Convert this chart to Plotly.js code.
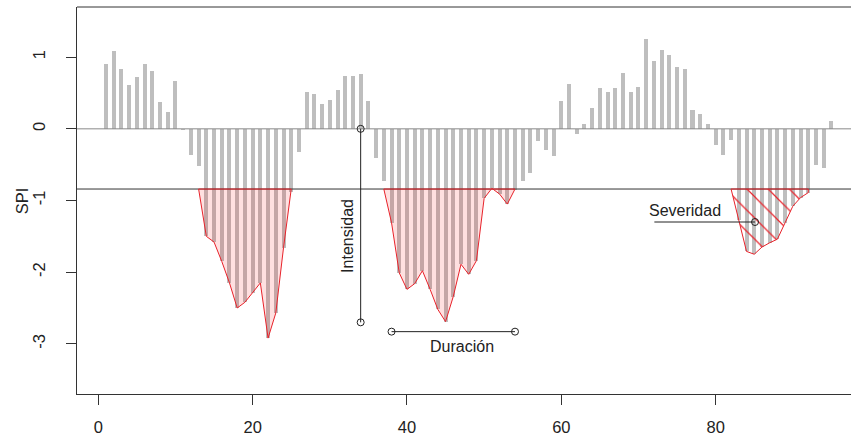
<!DOCTYPE html>
<html>
<head>
<meta charset="utf-8">
<script src="https://cdn.plot.ly/plotly-3.0.1.min.js"></script>
<style>html,body{margin:0;padding:0;background:#fff}#chart{width:851px;height:436px}</style>
</head>
<body>
<div id="chart"></div>
<script>
// ---- data ----
const spi = [
  0.90, 1.08, 0.84, 0.61, 0.72, 0.90, 0.81, 0.38, 0.23, 0.67,
 -0.02,-0.37,-0.52,-1.50,-1.58,-1.85,-2.15,-2.50,-2.42,-2.29,
 -2.15,-2.92,-2.57,-1.66,-0.88,-0.32, 0.52, 0.48, 0.35, 0.40,
  0.54, 0.74, 0.74, 0.77, 0.39,-0.41,-0.73,-1.31,-2.01,-2.24,
 -2.16,-1.98,-2.24,-2.52,-2.69,-2.34,-1.89,-2.03,-1.84,-0.97,
 -0.83,-0.91,-1.05,-0.86,-0.73,-0.62,-0.17,-0.30,-0.38, 0.39,
  0.62,-0.07, 0.07, 0.29, 0.57, 0.51, 0.57, 0.78, 0.52, 0.59,
  1.25, 0.95, 1.10, 1.03, 0.86, 0.83, 0.26, 0.21, 0.07,-0.22,
 -0.36,-0.15,-1.27,-1.71,-1.75,-1.65,-1.59,-1.54,-1.31,-1.08,
 -0.96,-0.89,-0.51,-0.54, 0.11
];
const months = spi.map((v, i) => i + 1);
const threshold = -0.84;
const eventStart = [14, 38, 83];
const eventEnd   = [25, 54, 92];
const intensityX = 34, intensityY = [0, -2.7];
const durationX = [38, 54], durationY = -2.83;
const severityX = [72.06, 85.1], severityY = -1.30;
const labels = {intensity: "Intensidad", duration: "Duración", severity: "Severidad", y: "SPI"};
const labelPos = {intensity: [32.3, -1.50], duration: [47.1, -3.04], severity: [76.0, -1.14]};
const xTicks = [0, 20, 40, 60, 80];
const yTicks = [-3, -2, -1, 0, 1];

// ---- build ----
const FONT = "Liberation Sans, Arial, sans-serif";
const traces = [];
traces.push({type: "bar", x: months, y: spi, width: 0.52, marker: {color: "#bebebe", line: {width: 0}}, hoverinfo: "skip"});
traces.push({type: "scatter", mode: "lines", x: [-10, 110], y: [0, 0], line: {color: "#8a8a8a", width: 1}, hoverinfo: "skip"});
traces.push({type: "scatter", mode: "lines", x: [-10, 110], y: [threshold, threshold], line: {color: "#333333", width: 1}, hoverinfo: "skip"});

eventStart.forEach((s, k) => {
  const e = eventEnd[k];
  const px = [s - 1], py = [threshold];
  for (let m = s; m <= e; m++) { px.push(m); py.push(spi[m - 1]); }
  px.push(e); py.push(threshold);
  px.push(s - 1); py.push(threshold);
  const tr = {type: "scatter", mode: "lines", x: px, y: py, fill: "toself",
    line: {color: "#e8222a", width: 1}, hoverinfo: "skip"};
  if (k < 2) {
    tr.fillcolor = "rgba(255,0,0,0.12)";
  } else {
    tr.fillcolor = "rgba(0,0,0,0)";
    tr.fillpattern = {shape: "\\", fgcolor: "#e8222a", bgcolor: "rgba(0,0,0,0)", size: 15, solidity: 0.08};
  }
  traces.push(tr);
});

const mk = {symbol: "circle-open", size: 7, color: "#222", line: {width: 1, color: "#222"}};
traces.push({type: "scatter", mode: "lines+markers", x: [intensityX, intensityX], y: intensityY, line: {color: "#222", width: 1}, marker: mk, hoverinfo: "skip"});
traces.push({type: "scatter", mode: "lines+markers", x: durationX, y: [durationY, durationY], line: {color: "#222", width: 1}, marker: mk, hoverinfo: "skip"});
traces.push({type: "scatter", mode: "lines", x: severityX, y: [severityY, severityY], line: {color: "#222", width: 1}, hoverinfo: "skip"});
traces.push({type: "scatter", mode: "markers", x: [severityX[1]], y: [severityY], marker: mk, hoverinfo: "skip"});

const axisCommon = {showgrid: false, zeroline: false, showline: true, linecolor: "#333", linewidth: 1,
  ticks: "outside", ticklen: 10, tickcolor: "#333", tickwidth: 1, mirror: false,
  tickfont: {family: FONT, size: 16.5, color: "#222"}};

const layout = {
  width: 851, height: 436,
  margin: {l: 77, r: 0, t: 7, b: 42},
  paper_bgcolor: "#fff", plot_bgcolor: "#fff",
  showlegend: false,
  bargap: 0,
  xaxis: Object.assign({}, axisCommon, {range: [-2.76, 97.54], tickvals: xTicks, ticktext: xTicks.map(String), ticklabelstandoff: 8}),
  yaxis: Object.assign({}, axisCommon, {range: [-3.7, 1.7], tickvals: yTicks, ticktext: yTicks.map(String), tickangle: -90, ticklabelstandoff: 14}),
  shapes: [
    {type: "line", xref: "paper", yref: "paper", x0: 0, x1: 1, y0: 1, y1: 1, line: {color: "#333", width: 1}}
  ],
  annotations: [
    {xref: "x", yref: "y", x: labelPos.intensity[0], y: labelPos.intensity[1], text: labels.intensity, textangle: -90, showarrow: false, xanchor: "center", yanchor: "middle", font: {family: FONT, size: 16, color: "#222"}},
    {xref: "x", yref: "y", x: labelPos.duration[0], y: labelPos.duration[1], text: labels.duration, showarrow: false, xanchor: "center", yanchor: "middle", font: {family: FONT, size: 16, color: "#222"}},
    {xref: "x", yref: "y", x: labelPos.severity[0], y: labelPos.severity[1], text: labels.severity, showarrow: false, xanchor: "center", yanchor: "middle", font: {family: FONT, size: 16, color: "#222"}},
    {xref: "paper", yref: "paper", x: (21.7 - 77) / 774, y: 0.5, text: labels.y, textangle: -90, showarrow: false, xanchor: "center", yanchor: "middle", font: {family: FONT, size: 16.5, color: "#222"}}
  ]
};

Plotly.newPlot("chart", traces, layout, {staticPlot: true, displayModeBar: false});
</script>
</body>
</html>
